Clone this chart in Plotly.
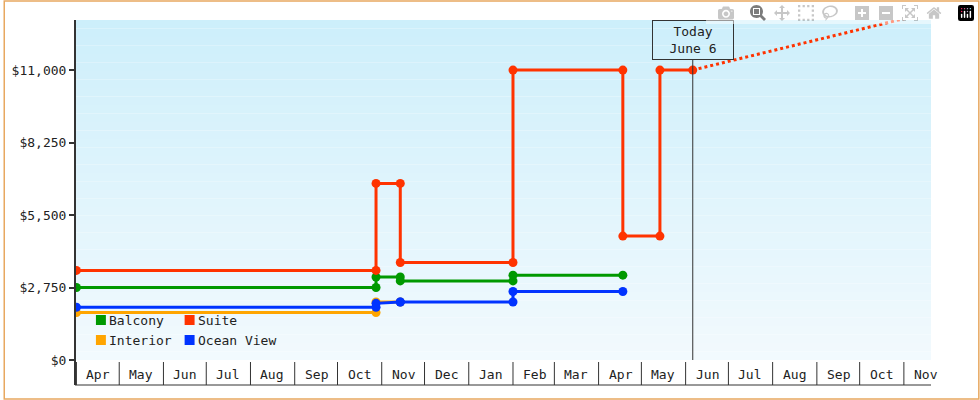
import plotly.graph_objects as go

months = ["Apr","May","Jun","Jul","Aug","Sep","Oct","Nov","Dec","Jan","Feb","Mar","Apr","May","Jun","Jul","Aug","Sep","Oct","Nov"]
month_starts = ["2023-04-01","2023-05-01","2023-06-01","2023-07-01","2023-08-01","2023-09-01","2023-10-01",
                "2023-11-01","2023-12-01","2024-01-01","2024-02-01","2024-03-01","2024-04-01","2024-05-01",
                "2024-06-01","2024-07-01","2024-08-01","2024-09-01","2024-10-01","2024-11-01","2024-12-01"]

suite_x = ["2023-04-01","2023-10-28","2023-10-28","2023-11-14","2023-11-14","2024-02-01","2024-02-01","2024-04-18","2024-04-18","2024-05-14","2024-05-14","2024-06-06"]
suite_y = [3400,3400,6700,6700,3700,3700,11000,11000,4700,4700,11000,11000]
balcony_x = ["2023-04-01","2023-10-28","2023-10-28","2023-11-14","2023-11-14","2024-02-01","2024-02-01","2024-04-18"]
balcony_y = [2750,2750,3150,3150,3000,3000,3220,3220]
ocean_x = ["2023-04-01","2023-10-28","2023-10-28","2023-11-14","2023-11-14","2024-02-01","2024-02-01","2024-04-18"]
ocean_y = [2000,2000,2150,2200,2200,2200,2600,2600]
interior_x = ["2023-04-01","2023-10-28","2023-10-28","2023-11-14"]
interior_y = [1800,1800,2200,2200]
proj_x = ["2024-06-06","2024-11-20"]
proj_y = [11000,13200]
yticks = [0,2750,5500,8250,11000]
ytick_labels = ["$0","$2,750","$5,500","$8,250","$11,000"]

C = {"Balcony":"#009900","Suite":"#ff3300","Interior":"#ffa500","Ocean View":"#0033ff"}
FONT = "DejaVu Sans Mono"

fig = go.Figure()
def add(name, xs, ys):
    fig.add_trace(go.Scatter(x=xs, y=ys, mode="lines+markers", name=name,
                             line=dict(color=C[name], width=3),
                             marker=dict(size=9, color=C[name]), showlegend=False))
add("Interior", interior_x, interior_y)
add("Ocean View", ocean_x, ocean_y)
add("Balcony", balcony_x, balcony_y)
add("Suite", suite_x, suite_y)
fig.add_trace(go.Scatter(x=proj_x, y=proj_y, mode="lines", line=dict(color=C["Suite"], width=3, dash="dot"),
                         showlegend=False, cliponaxis=False))

W, H = 980, 400
L, R, T, B = 72, 49, 20, 40
pw, ph = W - L - R, H - T - B
def px(xp): return (xp - L) / pw
def py(yp): return (H - B - yp) / ph

shapes = []
n = 40
for i in range(n):
    t = i / n
    r = int(0xcd + (0xf2 - 0xcd) * (1 - t)); g = int(0xef + (0xfa - 0xef) * (1 - t)); b = int(0xfb + (0xfe - 0xfb) * (1 - t))
    shapes.append(dict(type="rect", xref="paper", yref="paper", x0=0, x1=1, y0=i / n, y1=(i + 1) / n,
                       fillcolor=f"rgb({r},{g},{b})", line=dict(width=0), layer="below"))
shapes.append(dict(type="rect", xref="paper", yref="paper", x0=px(1), x1=px(979), y0=py(399), y1=py(1),
                   line=dict(color="#e8a860", width=1.5)))
for s in month_starts:
    shapes.append(dict(type="line", xref="x", yref="paper", x0=s, x1=s, y0=py(362), y1=py(385),
                       line=dict(color="#333", width=1)))
shapes.append(dict(type="line", xref="paper", yref="paper", x0=0, x1=1, y0=py(385), y1=py(385), line=dict(color="#333", width=1)))
shapes.append(dict(type="line", xref="paper", yref="paper", x0=0, x1=0, y0=py(385), y1=1, line=dict(color="#333", width=2)))
shapes.append(dict(type="line", xref="x", yref="paper", x0="2024-06-06", x1="2024-06-06", y0=0, y1=py(60),
                   line=dict(color="#333", width=1)))

annotations = []
for i, m in enumerate(months):
    annotations.append(dict(x=month_starts[i], y=py(374), xref="x", yref="paper", text=m, showarrow=False,
                            xanchor="left", yanchor="middle", xshift=8, font=dict(family=FONT, size=13, color="#222")))
annotations.append(dict(x="2024-06-06", y=py(40), xref="x", yref="paper", text="Today<br>June 6", showarrow=False,
                        yanchor="middle", bordercolor="#333", borderwidth=1, borderpad=3, width=74,
                        font=dict(family=FONT, size=13, color="#222")))
legend = [("Balcony", 93, 320), ("Suite", 182, 320), ("Interior", 93, 340), ("Ocean View", 182, 340)]
for name, lx, ly in legend:
    shapes.append(dict(type="rect", xref="paper", yref="paper", x0=px(lx), x1=px(lx + 10), y0=py(ly + 5), y1=py(ly - 5),
                       fillcolor=C[name], line=dict(width=0)))
    annotations.append(dict(x=px(lx + 11), y=py(ly), xref="paper", yref="paper", text=name, showarrow=False,
                            xanchor="left", yanchor="middle", font=dict(family=FONT, size=13, color="#222")))

fig.update_layout(width=W, height=H, margin=dict(l=L, r=R, t=T, b=B), paper_bgcolor="white", plot_bgcolor="rgba(0,0,0,0)",
                  shapes=shapes, annotations=annotations, font=dict(family=FONT, size=13, color="#222"),
                  xaxis=dict(range=["2023-03-31", "2024-11-20"], showgrid=False, showticklabels=False, zeroline=False, showline=False),
                  yaxis=dict(range=[0, 12900], tickvals=yticks, ticktext=ytick_labels, showgrid=False, zeroline=False,
                             ticks="outside", ticklen=5, tickcolor="#333", tickwidth=2, showline=False))
fig.write_html("out.html", post_script="document.body.style.margin='0';document.body.style.overflow='hidden';")
